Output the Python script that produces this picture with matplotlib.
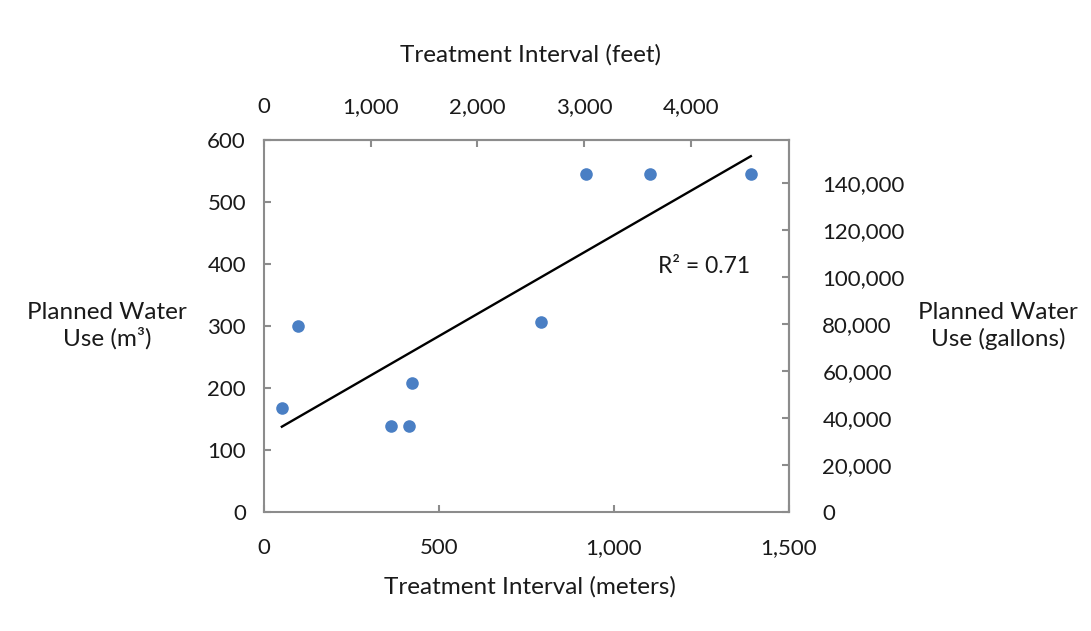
import numpy as np
import matplotlib.pyplot as plt
from matplotlib.ticker import FuncFormatter

plt.rcParams['font.family'] = ['Lato', 'DejaVu Sans']
plt.rcParams['font.size'] = 16

# treatment interval (m) vs planned water use (m3)
interval_m = [51, 96, 363, 414, 422, 791, 920, 1103, 1391]
water_m3 = [168, 299, 138, 138, 208, 306, 545, 545, 545]
r2_label = "R² = 0.71"

M_TO_FT = 3.28084
M3_TO_GAL = 264.172

x = np.array(interval_m)
y = np.array(water_m3)
slope, icpt = np.polyfit(x, y, 1)
xl = np.array([x.min(), x.max()])

W, H = 1091, 631
fig = plt.figure(figsize=(W / 100, H / 100), dpi=100)
ax = fig.add_axes([264 / W, 1 - 511.7 / H, 525 / W, 372 / H])

grey = '#8c8c8c'
ink = '#1a1a1a'
ax.scatter(x, y, s=82, color='#4a7fc4', zorder=3, linewidths=0)
ax.plot(xl, slope * xl + icpt, color='black', lw=1.7, zorder=2)
ax.text(1390, 395, r2_label, ha='right', va='center', fontsize=16.5, color=ink)

ax.set_xlim(0, 1500)
ax.set_ylim(0, 600)
ax.set_xticks([0, 500, 1000, 1500])
ax.set_yticks(range(0, 601, 100))
fmt = FuncFormatter(lambda v, p: f"{v:,.0f}")
ax.xaxis.set_major_formatter(fmt)
for s in ax.spines.values():
    s.set_color(grey)
    s.set_linewidth(1.5)
ax.tick_params(axis='y', direction='in', length=5, width=1.5, color=grey, pad=13, labelcolor=ink)
ax.tick_params(axis='x', direction='in', length=5, width=1.5, color=grey, pad=19, labelcolor=ink)

top = ax.secondary_xaxis('top', functions=(lambda m: m * M_TO_FT, lambda f: f / M_TO_FT))
top.set_xticks([0, 1000, 2000, 3000, 4000])
top.xaxis.set_major_formatter(fmt)
top.tick_params(direction='in', length=5, width=1.5, color=grey, pad=16, labelcolor=ink)
top.spines['top'].set_color(grey)
top.spines['top'].set_linewidth(1.5)

right = ax.secondary_yaxis('right', functions=(lambda v: v * M3_TO_GAL, lambda g: g / M3_TO_GAL))
right.set_yticks(range(0, 140001, 20000))
right.yaxis.set_major_formatter(fmt)
right.tick_params(direction='in', length=5, width=1.5, color=grey, pad=24, labelcolor=ink)
right.spines['right'].set_color(grey)
right.spines['right'].set_linewidth(1.5)

lab = dict(ha='center', va='center', fontsize=17.5, linespacing=1.25, color=ink)
fig.text(530 / W, 1 - 587 / H, "Treatment Interval (meters)", **lab)
fig.text(530 / W, 1 - 55 / H, "Treatment Interval (feet)", **lab)
fig.text(107 / W, 1 - 326 / H, "Planned Water\nUse (m³)", **lab)
fig.text(998 / W, 1 - 326 / H, "Planned Water\nUse (gallons)", **lab)

fig.savefig('out.png', dpi=100, facecolor='white')
